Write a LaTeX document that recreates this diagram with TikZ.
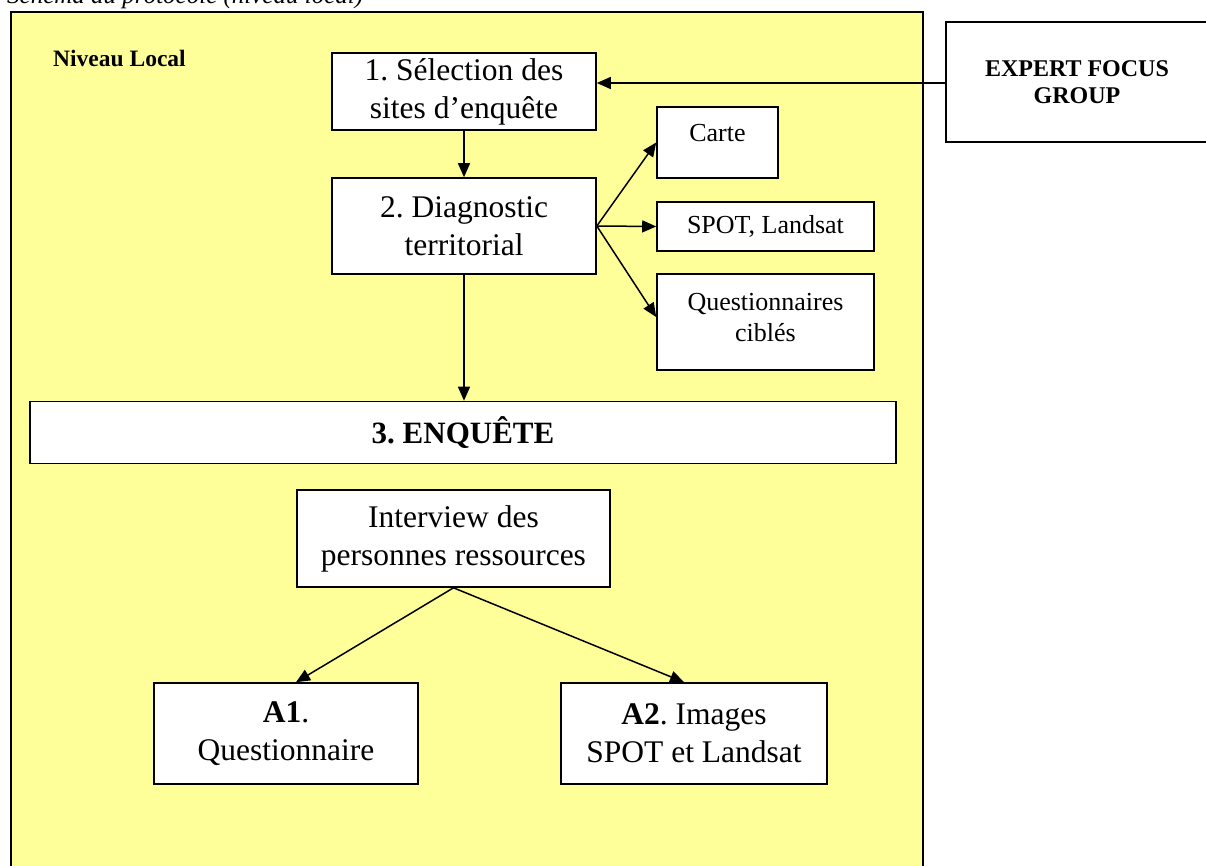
\documentclass[tikz,border=0pt]{standalone}
\usepackage{fontspec}
\setmainfont{Liberation Serif}
\usetikzlibrary{arrows.meta}
\definecolor{paleyellow}{HTML}{FFFF99}
\tikzset{
  box/.style={draw=black, fill=white, line width=1.6pt, inner sep=0pt, align=center, anchor=center},
  big/.style={font=\fontsize{31.5}{38}\selectfont},
  small/.style={font=\fontsize{26}{31}\selectfont},
  conn/.style={line width=1.5pt, -{Triangle[length=14pt,width=12pt]}},
}
\begin{document}
\frenchspacing
\begin{tikzpicture}[x=1pt,y=-1pt]
\useasboundingbox (0,0) rectangle (1206,866);
% title, cut off at top
\node[anchor=base west, inner sep=0pt, font=\fontsize{25}{30}\selectfont\itshape] (title) at (7,4) {Schéma du protocole (niveau local)};
% yellow frame
\node[draw=black, fill=paleyellow, line width=1.6pt, inner sep=0pt, minimum width=912pt, minimum height=880pt, anchor=north west] (frame) at (10,11) {};
\node[inner sep=0pt, anchor=base west, font=\fontsize{23.5}{28}\selectfont\bfseries] (niv) at (53,67) {Niveau Local};
% boxes
\node[box, big, minimum width=264pt, minimum height=77pt] (b1) at (464,91.5) {1. Sélection des\\sites d’enquête};
\node[box, big, minimum width=264pt, minimum height=96pt] (b2) at (464,226) {2. Diagnostic\\territorial};
\node[box, minimum width=262pt, minimum height=120pt, font=\fontsize{24}{27}\selectfont\bfseries] (exp) at (1077,82) {EXPERT FOCUS\\GROUP};
\node[box, minimum width=121pt, minimum height=71pt] (carte) at (717.5,142.5) {};
\node[small, inner sep=0pt, anchor=base] (cartet) at (717.5,142) {Carte};
\node[box, small, minimum width=217pt, minimum height=49pt] (spot) at (765.5,226.5) {SPOT, Landsat};
\node[box, minimum width=217pt, minimum height=96pt] (quest) at (765.5,322) {};
\node[small, inner sep=0pt, align=center, anchor=base] (questt) at (765.5,341) {Questionnaires\\ciblés};
\node[box, minimum width=866pt, minimum height=62pt, font=\fontsize{31}{34}\selectfont\bfseries] (enq) at (463,432.5) {3. ENQUÊTE};
\node[box, big, minimum width=313pt, minimum height=97pt] (inter) at (453.5,538.5) {Interview des\\personnes ressources};
\node[box, big, minimum width=264pt, minimum height=101pt] (a1) at (286,733.5) {\textbf{A1}.\\Questionnaire};
\node[box, big, minimum width=266pt, minimum height=101pt] (a2) at (694,733.5) {\textbf{A2}. Images\\SPOT et Landsat};
% connectors
\coordinate (expin) at (exp.west |- 0,83);
\draw[conn] (expin) -- (expin -| b1.east);
\draw[conn] (b1.south) -- (b2.north);
\coordinate (fan) at (b2.east);
\draw[conn] (fan) -- (carte.west);
\draw[conn] (fan) -- (spot.west);
\draw[conn] (fan) -- (quest.west |- 0,317);
\draw[conn] (b2.south) -- (enq.north -| b2.south);
\draw[conn] (inter.south) -- (a1.north -| 296,0);
\draw[conn] (inter.south) -- (a2.north -| 684,0);
\end{tikzpicture}
\end{document}
